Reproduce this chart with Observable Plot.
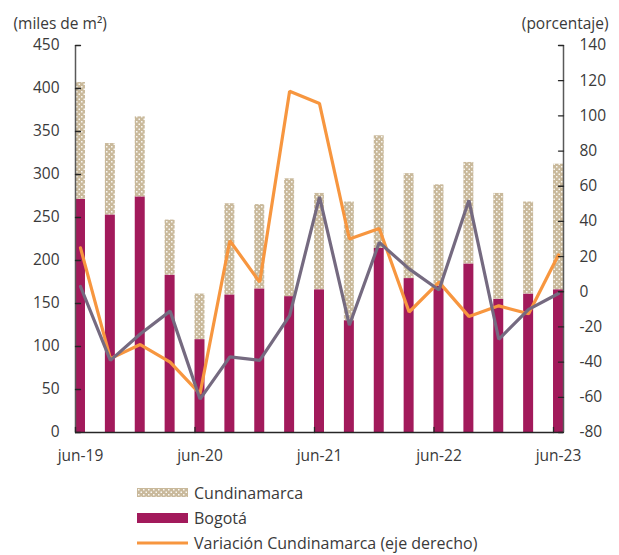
<!DOCTYPE html>
<html>
<head>
<meta charset="utf-8">
<script src="https://cdn.jsdelivr.net/npm/d3@7"></script>
<script src="https://cdn.jsdelivr.net/npm/@observablehq/plot@0.6"></script>
<style>
  body { margin: 0; background: #fff; font-family: "Open Sans", sans-serif; color: #3a3a3a; }
  #chart { width: 619px; height: 555px; position: relative; }
  .legend { padding-left: 137px; }
  .row { height: 25px; display: flex; align-items: center; font-size: 16px; }
  .sw { width: 51px; margin-right: 6px; display: flex; align-items: center; justify-content: center; }
</style>
</head>
<body>
<div id="chart"></div>
<script>
// ---- data ----
const quarters = ["jun-19","sep-19","dic-19","mar-20","jun-20","sep-20","dic-20","mar-21","jun-21","sep-21","dic-21","mar-22","jun-22","sep-22","dic-22","mar-23","jun-23"];
const bogota = [271, 253, 274, 183, 108, 160, 167, 158, 166, 130, 214, 179, 170, 196, 155, 161, 166];
const cundinamarca = [136, 83, 93, 64, 53, 106, 98, 137, 112, 138, 131, 122, 118, 118, 123, 107, 146];
const variacionCundinamarca = [25, -38, -30, -40, -58, 29, 5.5, 114, 107, 30, 36, -11.5, 5.5, -14, -8, -12.5, 21];
const variacionBogota = [3, -39, -24, -11, -61, -37, -39, -13.5, 54, -19, 28, 13, 1, 52, -27, -10, -1];
const xTickIndex = [0, 4, 8, 12, 16];
const leftTicks = [0, 50, 100, 150, 200, 250, 300, 350, 400, 450];
const rightTicks = [-80, -60, -40, -20, 0, 20, 40, 60, 80, 100, 120, 140];

const colors = { cund: "#c9b99b", bog: "#a21a5b", varC: "#f7963f", varB: "#756a80", text: "#3a3a3a", axis: "#595959" };

// right-axis value <-> left-scale value
const leftMax = 450, rMin = -80, rMax = 140;
const toLeft = v => (v - rMin) * leftMax / (rMax - rMin);
const fromLeft = y => y * (rMax - rMin) / leftMax + rMin;

const half = 0.167;
const xDomain = [-half, quarters.length - 1 + half];

const rows = quarters.map((q, i) => ({
  i, q,
  bog: bogota[i],
  cund: cundinamarca[i],
  vc: variacionCundinamarca[i],
  vb: variacionBogota[i]
}));

const tickShape = { draw(context, l) { context.moveTo(0, 0); context.lineTo(0, -l); } };

const plot = Plot.plot({
  width: 619,
  height: 480,
  marginLeft: 75,
  marginRight: 56,
  marginTop: 45,
  marginBottom: 48,
  style: { fontFamily: "'Open Sans', sans-serif", fontSize: "15.5px", color: colors.text, background: "#fff" },
  x: { type: "linear", domain: xDomain },
  y: { domain: [0, leftMax] },
  marks: [
    // bars
    Plot.rectY(rows, { x1: d => d.i - half, x2: d => d.i + half, y1: 0, y2: d => d.bog, fill: colors.bog }),
    Plot.rectY(rows, { x1: d => d.i - half, x2: d => d.i + half, y1: d => d.bog, y2: d => d.bog + d.cund, fill: "url(#dotsPattern)" }),
    // lines on right axis
    Plot.line(rows, { x: "i", y: d => toLeft(d.vc), stroke: colors.varC, strokeWidth: 3.2, strokeLinejoin: "miter" }),
    Plot.line(rows, { x: "i", y: d => toLeft(d.vb), stroke: colors.varB, strokeWidth: 3.2, strokeLinejoin: "miter" }),
    // axis lines
    Plot.ruleX([xDomain[0]], { stroke: colors.axis, strokeWidth: 1.5 }),
    Plot.ruleX([xDomain[1]], { stroke: colors.axis, strokeWidth: 1.5 }),
    Plot.ruleY([0], { stroke: "#262626", strokeWidth: 1.5 }),
    // inward tick marks
    Plot.vector(leftTicks, { y: d => d, frameAnchor: "left", rotate: 90, length: 5, anchor: "start", shape: tickShape, stroke: "#262626", strokeWidth: 1.3 }),
    Plot.vector(rightTicks, { y: d => toLeft(d), frameAnchor: "right", rotate: -90, length: 5, anchor: "start", shape: tickShape, stroke: "#262626", strokeWidth: 1.3 }),
    Plot.vector(xTickIndex, { x: d => d - half, frameAnchor: "bottom", rotate: 0, length: 5, anchor: "start", shape: tickShape, stroke: "#262626", strokeWidth: 1.3 }),
    // axes labels
    Plot.axisY({ anchor: "left", ticks: leftTicks, tickSize: 0, tickPadding: 16, label: null, tickFormat: d => String(d) }),
    Plot.axisY({ anchor: "right", ticks: rightTicks.map(toLeft), tickSize: 0, tickPadding: 16, label: null, tickFormat: d => String(Math.round(fromLeft(d))) }),
    Plot.axisX({ ticks: xTickIndex, tickSize: 0, tickPadding: 17, label: null, tickFormat: i => quarters[i] }),
    // unit titles
    Plot.text(["(miles de m²)"], { text: d => d, frameAnchor: "top-left", dx: -62, dy: -28, textAnchor: "start", fill: colors.text }),
    Plot.text(["(porcentaje)"], { text: d => d, frameAnchor: "top-right", dx: 45, dy: -28, textAnchor: "end", fill: colors.text })
  ]
});

// dotted pattern for Cundinamarca
const svg = d3.select(plot);
const defs = svg.insert("defs", ":first-child");
const pat = defs.append("pattern").attr("id", "dotsPattern").attr("patternUnits", "userSpaceOnUse").attr("width", 5).attr("height", 5);
pat.append("rect").attr("width", 5).attr("height", 5).attr("fill", colors.cund);
pat.append("rect").attr("x", 1).attr("y", 1).attr("width", 1.5).attr("height", 1.5).attr("fill", "#fff").attr("opacity", 0.9);
pat.append("rect").attr("x", 3.5).attr("y", 3.5).attr("width", 1.5).attr("height", 1.5).attr("fill", "#fff").attr("opacity", 0.9);

const chart = document.getElementById("chart");
chart.appendChild(plot);

// legend
const legendItems = [
  { label: "Cundinamarca", swatch: `<svg width="51" height="9"><rect width="51" height="9" fill="url(#dotsPattern)"/></svg>` },
  { label: "Bogotá", swatch: `<svg width="51" height="10"><rect width="51" height="10" fill="${colors.bog}"/></svg>` },
  { label: "Variación Cundinamarca (eje derecho)", swatch: `<svg width="51" height="4"><rect width="51" height="3" y="0.5" fill="${colors.varC}"/></svg>` }
];
const legend = d3.select(chart).append("div").attr("class", "legend");
legendItems.forEach(item => {
  const row = legend.append("div").attr("class", "row");
  row.append("div").attr("class", "sw").html(item.swatch);
  row.append("span").text(item.label);
});
</script>
</body>
</html>
